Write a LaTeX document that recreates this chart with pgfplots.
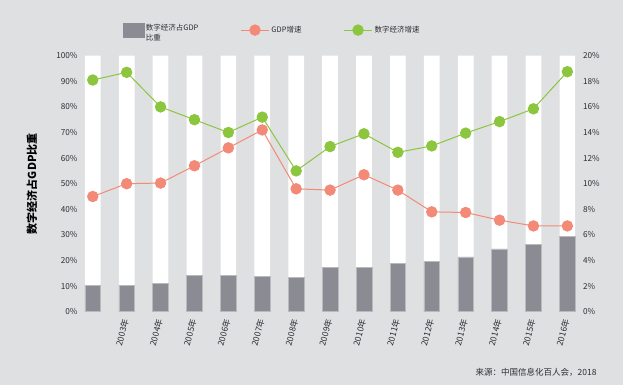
\documentclass[border=0pt]{standalone}
\usepackage{pgfplots}
\usepackage{pgfplotstable}
\pgfplotsset{compat=1.18}
\usepackage{fontspec}
\setmainfont{Noto Sans CJK SC}
\definecolor{bg}{RGB}{223,224,226}
\definecolor{bargray}{RGB}{138,139,147}
\definecolor{salmon}{RGB}{243,138,120}
\definecolor{lgreen}{RGB}{140,198,63}
\definecolor{txt}{RGB}{45,45,50}

\pgfplotstableread{
x full share gdp digital
0 100 10.3 9.0 18.1
1 100 10.3 10.0 18.7
2 100 11.2 10.05 16.0
3 100 14.3 11.4 15.0
4 100 14.3 12.8 14.0
5 100 13.8 14.2 15.2
6 100 13.4 9.6 11.0
7 100 17.3 9.5 12.9
8 100 17.3 10.7 13.9
9 100 18.8 9.5 12.45
10 100 19.7 7.8 12.95
11 100 21.4 7.75 13.95
12 100 24.5 7.15 14.85
13 100 26.3 6.7 15.85
14 100 29.3 6.7 18.75
}\datatable

\begin{document}
\begin{tikzpicture}
\fill[bg] (0,0) rectangle (623pt,385pt);
\begin{axis}[
  at={(77.5pt,73.3pt)}, anchor=south west,
  scale only axis, width=505.1pt, height=256pt,
  xmin=-0.45, xmax=14.45, ymin=0, ymax=100,
  axis y line*=left, axis x line*=bottom,
  axis line style={draw=none}, tick style={draw=none},
  /pgf/number format/assume math mode=true,
  ytick={0,10,...,100},
  yticklabel={\pgfmathprintnumber{\tick}\%},
  yticklabel style={font=\fontsize{8.2}{10}\selectfont, text=txt, xshift=3.5pt},
  xtick={1,...,14},
  xticklabels={2003年,2004年,2005年,2006年,2007年,2008年,2009年,2010年,2011年,2012年,2013年,2014年,2015年,2016年},
  xticklabel style={rotate=75, anchor=east, font=\fontsize{8.5}{10}\selectfont, text=txt},
  ylabel={数字经济占GDP比重},
  ylabel style={at={(axis description cs:-0.09,0.5)}, anchor=center, font=\fontsize{11}{13}\selectfont\bfseries, text=black},
  ybar, bar width=15.7pt,
]
\addplot[fill=white, draw=none, bar shift=0pt] table[x=x, y=full]{\datatable};
\addplot[fill=bargray, draw=bargray!60!white, line width=0.5pt, bar shift=0pt] table[x=x, y=share]{\datatable};
\end{axis}
\begin{axis}[
  at={(77.5pt,73.3pt)}, anchor=south west,
  scale only axis, width=505.1pt, height=256pt,
  xmin=-0.45, xmax=14.45, ymin=0, ymax=20,
  axis y line*=right, axis x line=none,
  axis line style={draw=none}, tick style={draw=none},
  /pgf/number format/assume math mode=true,
  ytick={0,2,...,20},
  yticklabel={\pgfmathprintnumber{\tick}\%},
  yticklabel style={font=\fontsize{8.2}{10}\selectfont, text=txt, xshift=-3pt},
  legend columns=3,
  legend style={at={(axis description cs:0.0895,1.10)}, anchor=west, draw=none, fill=none,
    font=\fontsize{7.5}{10}\selectfont, text=txt, inner sep=0pt,
    /tikz/every even column/.append style={column sep=40pt}},
  legend image code/.code={\draw[mark repeat=2,mark phase=2,#1] plot coordinates {(0pt,0pt)(14pt,0pt)(28pt,0pt)};},
]
\addlegendimage{legend image code/.code={\fill[bargray] (0pt,-7.3pt) rectangle (20.6pt,7.3pt);}}
\addlegendentry{\begin{tabular}{@{}l@{}}数字经济占GDP\\比重\end{tabular}}
\addplot[salmon, line width=1pt, mark=*, mark size=5.2pt, mark options={fill=salmon, draw=salmon}] table[x=x, y=gdp]{\datatable};
\addlegendentry{GDP增速}
\addplot[lgreen, line width=1pt, mark=*, mark size=5.2pt, mark options={fill=lgreen, draw=lgreen}] table[x=x, y=digital]{\datatable};
\addlegendentry{数字经济增速}
\end{axis}
\node[anchor=east, font=\fontsize{8.5}{10}\selectfont, text=txt] at (600pt,13pt) {来源：中国信息化百人会，2018};
\pgfresetboundingbox
\path (0,0) rectangle (623pt,385pt);
\end{tikzpicture}
\end{document}
